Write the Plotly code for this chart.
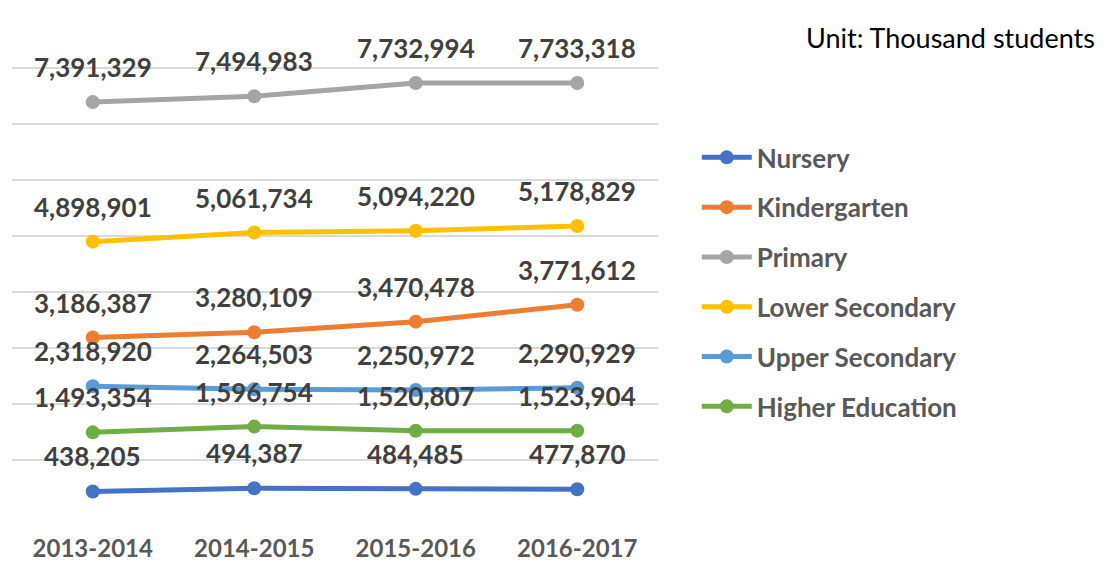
import plotly.graph_objects as go

years = ["2013-2014", "2014-2015", "2015-2016", "2016-2017"]
nursery = [438205, 494387, 484485, 477870]
kindergarten = [3186387, 3280109, 3470478, 3771612]
primary = [7391329, 7494983, 7732994, 7733318]
lower_secondary = [4898901, 5061734, 5094220, 5178829]
upper_secondary = [2318920, 2264503, 2250972, 2290929]
higher_education = [1493354, 1596754, 1520807, 1523904]

series = [
    ("Nursery", nursery, "#4472C4"),
    ("Kindergarten", kindergarten, "#ED7D31"),
    ("Primary", primary, "#A5A5A5"),
    ("Lower Secondary", lower_secondary, "#FFC000"),
    ("Upper Secondary", upper_secondary, "#5B9BD5"),
    ("Higher Education", higher_education, "#70AD47"),
]

FONT = "Lato"
fig = go.Figure()
annotations = []
for i, (name, vals, color) in enumerate(series):
    fig.add_trace(go.Scatter(
        x=years, y=vals, name=name, mode="lines+markers",
        line=dict(color=color, width=5),
        marker=dict(color=color, size=14),
        legendgroup=name,
        hoverinfo="skip",
    ))
    for x, v in zip(years, vals):
        annotations.append(dict(
            x=x, y=v, xref="x", yref="y", text=f"{v:,}", showarrow=False,
            yshift=35, font=dict(family=FONT, size=26, color="#404040", weight="bold"),
        ))

pw = 1108 - 12 - 450
ph = 563 - 12 - 47
annotations.append(dict(
    x=(1097 - 12) / pw, y=(563 - 47 - 37) / ph, xref="paper", yref="paper",
    xanchor="right", yanchor="middle",
    text="Unit: Thousand students", showarrow=False,
    font=dict(family=FONT, size=27, color="#000000"),
))

fig.update_layout(
    width=1108, height=563,
    margin=dict(l=12, r=450, t=12, b=47, autoexpand=False),
    paper_bgcolor="white", plot_bgcolor="white",
    showlegend=True,
    legend=dict(
        x=1.06, y=0.758, xanchor="left", yanchor="top",
        font=dict(family=FONT, size=26, color="#595959", weight="bold"),
        tracegroupgap=13, itemwidth=50,
    ),
    annotations=annotations,
    xaxis=dict(
        range=[-0.5, 3.5], showgrid=False, zeroline=False, showline=False,
        ticks="", tickfont=dict(family=FONT, size=24, color="#595959", weight="bold"),
        ticklabelstandoff=16, automargin=False,
    ),
    yaxis=dict(
        range=[0, 9000000], dtick=1000000, showgrid=True, gridcolor="#D9D9D9",
        gridwidth=2, showticklabels=False, zeroline=False, showline=False,
        automargin=False,
    ),
)

fig.write_html(
    "out.html",
    config={"displayModeBar": False},
    post_script="document.body.style.margin='0';document.body.style.overflow='hidden';",
)
